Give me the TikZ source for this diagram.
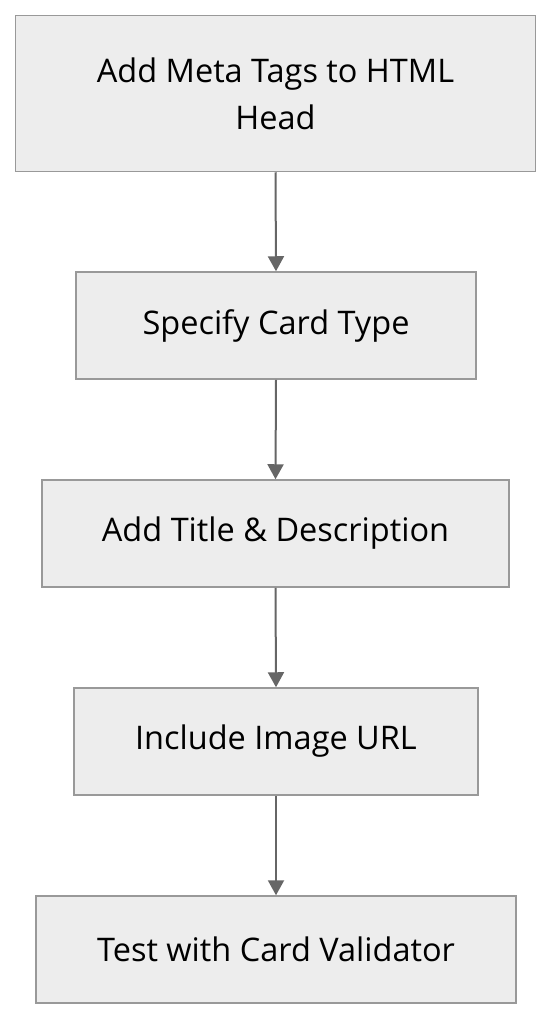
\documentclass[tikz,border=0pt]{standalone}
\usepackage{fontspec}
\setmainfont{Open Sans}
\usetikzlibrary{arrows.meta}
\begin{document}
\begin{tikzpicture}[x=1pt,y=-1pt,
  box/.style={draw=black!40, line width=1.5pt, fill=black!7, inner sep=0pt, font=\fontsize{32.5}{47}\selectfont, align=center},
  conn/.style={draw=black!60, line width=2pt, -{Triangle[length=15pt,width=16pt]}}]
\useasboundingbox (0,0) rectangle (552,1020);
\node[box, minimum width=520pt, minimum height=156pt] (a) at (275.5,93.5) {Add Meta Tags to HTML\\Head};
\node[box, minimum width=400pt, minimum height=107pt] (b) at (276,325.5) {Specify Card Type};
\node[box, minimum width=467pt, minimum height=107pt] (c) at (275.5,533.5) {Add Title \& Description};
\node[box, minimum width=404pt, minimum height=107pt] (d) at (276,741.5) {Include Image URL};
\node[box, minimum width=480pt, minimum height=107pt] (e) at (276,949.5) {Test with Card Validator};
\draw[conn] (a.south) -- (b.north);
\draw[conn] (b.south) -- (c.north);
\draw[conn] (c.south) -- (d.north);
\draw[conn] (d.south) -- (e.north);
\end{tikzpicture}
\end{document}
